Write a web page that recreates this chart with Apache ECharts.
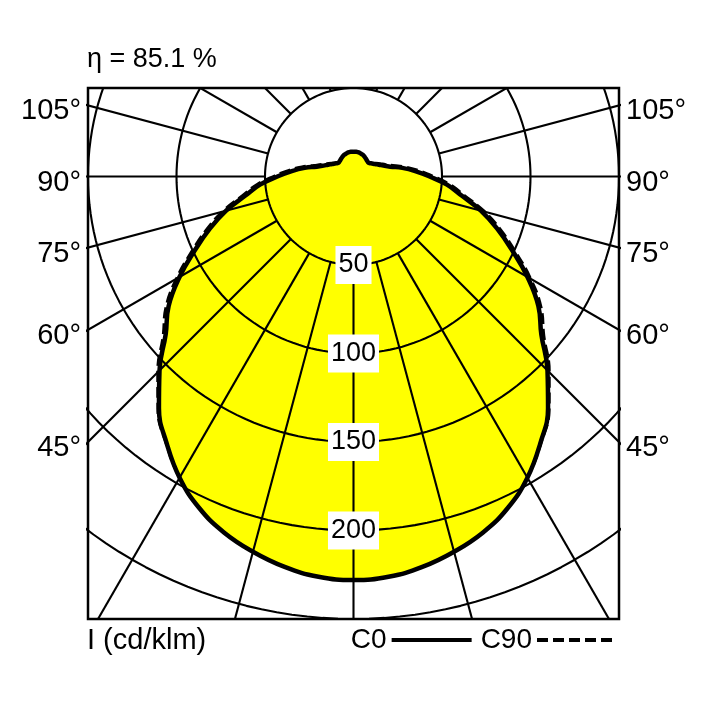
<!DOCTYPE html>
<html>
<head>
<meta charset="utf-8">
<title>Lichtverteilung</title>
<script src="https://cdn.jsdelivr.net/npm/echarts@6/dist/echarts.min.js"></script>
<style>
  html, body { margin: 0; padding: 0; background: #fff; }
  #chart { width: 708px; height: 708px; }
</style>
</head>
<body>
<div id="chart"></div>
<script>
// angles from nadir (deg) and luminous intensity in cd/klm
var ANGLES = [0, 5, 10, 15, 20, 25, 30, 35, 40, 45, 50, 55, 60, 65, 70, 75, 80, 85, 90,
  95, 100, 105, 110, 115, 120, 125, 130, 135, 140, 145, 150, 155, 160, 165, 170, 175, 180];
var C0 = [228, 227, 224, 219.5, 214, 206.5, 196.5, 184, 171, 155, 138.5, 127.5, 113.5, 99, 86.5, 74.5, 62, 53, 43,
  35, 28, 21.5, 18, 15.8, 14, 12.8, 11.8, 11.5, 11.8, 12.2, 12.7, 13.2, 13.5, 13.8, 14, 14, 14];
var C90 = [227, 226, 223, 218.5, 213, 205.5, 196, 184, 171.5, 156, 140, 129, 115, 100.5, 88, 76, 63.5, 54.5, 44.5,
  36.5, 29.5, 23, 19, 16.5, 14.5, 12.5, 10.5, 9.3, 8.6, 8, 7.6, 7.2, 7, 6.8, 6.6, 6.5, 6.5];

var RINGS = [50, 100, 150, 200, 250];
var RING_LABELS = [50, 100, 150, 200];
var ANGLE_TICKS = [45, 60, 75, 90, 105];
var ETA = 'η = 85.1 %';
var UNIT = 'I (cd/klm)';

var FONT = '"Liberation Sans", Arial, sans-serif';
var XMAX = 150;
var SMOOTH = 0.45;

function rad(d) { return d * Math.PI / 180; }

// closed outline: left half from zenith down to nadir, then right half back up
function outline(vals) {
	var pts = [];
	for (var i = ANGLES.length - 1; i >= 0; i--) {
		pts.push([-vals[i] * Math.sin(rad(ANGLES[i])), -vals[i] * Math.cos(rad(ANGLES[i]))]);
	}
	for (var j = 1; j < ANGLES.length; j++) {
		pts.push([vals[j] * Math.sin(rad(ANGLES[j])), -vals[j] * Math.cos(rad(ANGLES[j]))]);
	}
	return pts;
}

var c0Pts = outline(C0);
var c90Pts = outline(C90);

var gridLine = { color: '#000', width: 2.1 };
var series = [];

series.push({
	name: 'C90', type: 'line', data: c90Pts, symbol: 'none', z: 1, smooth: SMOOTH,
	lineStyle: { color: '#000', width: 4, type: [11, 5] }, itemStyle: { color: '#000' }
});

series.push({
	name: 'fill', type: 'custom', z: 2, data: [[0, 0]],
	renderItem: function (params, api) {
		return {
			type: 'polygon',
			shape: { points: c0Pts.map(function (p) { return api.coord(p); }), smooth: SMOOTH },
			style: { fill: '#ffff00', stroke: null }
		};
	}
});

// circles
RINGS.forEach(function (r) {
	var pts = [];
	for (var a = 0; a <= 360; a += 2) pts.push([r * Math.sin(rad(a)), -r * Math.cos(rad(a))]);
	series.push({ type: 'line', data: pts, symbol: 'none', z: 3, clip: true, lineStyle: gridLine, silent: true });
});

// spokes every 15 deg, starting at the 50 ring
for (var a = 0; a < 360; a += 15) {
	series.push({
		type: 'line', symbol: 'none', z: 3, clip: true, lineStyle: gridLine, silent: true,
		data: [[50 * Math.sin(rad(a)), -50 * Math.cos(rad(a))], [500 * Math.sin(rad(a)), -500 * Math.cos(rad(a))]]
	});
}

series.push({
	name: 'C0', type: 'line', data: c0Pts, symbol: 'none', z: 4, smooth: SMOOTH,
	lineStyle: { color: '#000', width: 4.5 }, itemStyle: { color: '#000' }
});

series.push({
	type: 'scatter', z: 5, symbolSize: 0, silent: true,
	itemStyle: { opacity: 1 },
	data: RING_LABELS.map(function (r) { return [0, -r, r]; }),
	label: {
		show: true, position: 'inside', formatter: function (p) { return p.value[2]; },
		fontFamily: FONT, fontSize: 27, color: '#000', opacity: 1,
		backgroundColor: '#fff', padding: [6, 3, 5, 3]
	}
});

var tickVals = ANGLE_TICKS.map(function (t) { return -XMAX * Math.cos(rad(t)) / Math.sin(rad(t)); });

function angleLabel(v) {
	return Math.round(90 + Math.atan(v / XMAX) * 180 / Math.PI) + '°';
}

function sideAxis(pos) {
	return {
		type: 'value', position: pos, min: -250, max: 50,
		axisLine: { show: false }, axisTick: { show: false }, splitLine: { show: false },
		axisLabel: {
			show: true, customValues: tickVals, formatter: angleLabel, margin: 7,
			fontFamily: FONT, fontSize: 29, color: '#000', verticalAlign: 'top', lineHeight: 12
		}
	};
}

var chart = echarts.init(document.getElementById('chart'));
chart.setOption({
	animation: false,
	title: [
		{ text: ETA, left: 87, top: 46, padding: 0,
			textStyle: { fontFamily: FONT, fontSize: 27, fontWeight: 'normal', color: '#000' } },
		{ text: UNIT, left: 87, top: 626, padding: 0,
			textStyle: { fontFamily: FONT, fontSize: 29, fontWeight: 'normal', color: '#000' } }
	],
	legend: {
		data: ['C0', 'C90'], right: 89, top: 626, align: 'right', padding: 0,
		itemWidth: 80, itemHeight: 14, itemGap: 7, selectedMode: false,
		itemStyle: { opacity: 0 }, lineStyle: { width: 4 },
		textStyle: { fontFamily: FONT, fontSize: 28, color: '#000' }
	},
	grid: { left: 88, right: 89, top: 88, bottom: 89, show: true, borderColor: '#000', borderWidth: 2.5 },
	xAxis: {
		type: 'value', min: -XMAX, max: XMAX,
		axisLine: { show: false }, axisTick: { show: false }, axisLabel: { show: false }, splitLine: { show: false }
	},
	yAxis: [sideAxis('left'), sideAxis('right')],
	series: series
});
</script>
</body>
</html>
